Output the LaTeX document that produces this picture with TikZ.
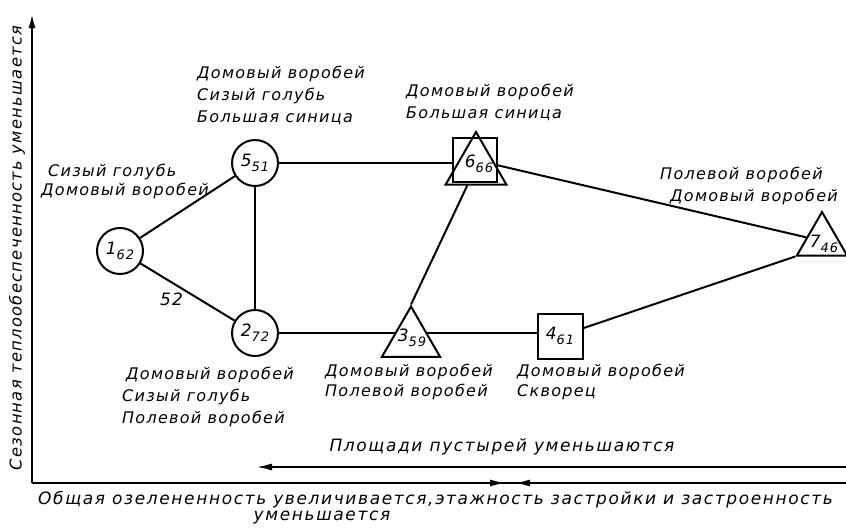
\documentclass[tikz,border=0pt]{standalone}
\usepackage{fontspec}
\setmainfont{DejaVu Sans}
\newfontfamily\lab[LetterSpace=8]{DejaVu Sans}
\newfontfamily\labw[LetterSpace=9.5]{DejaVu Sans}
\usetikzlibrary{shapes.geometric,backgrounds,arrows.meta}
\newcommand{\ndlab}[2]{#1\raisebox{-0.55ex}{\fontsize{13}{13}\selectfont #2}}
\begin{document}
\begin{tikzpicture}[x=1pt,y=-1pt,
  lbl/.style={font=\lab\itshape\fontsize{16}{22}\selectfont, align=left, inner sep=0pt, anchor=north west},
  lblv/.style={font=\lab\itshape\fontsize{16.3}{22}\selectfont, align=center, inner sep=0pt},
  lblw/.style={font=\labw\itshape\fontsize{17}{22}\selectfont, align=center, inner sep=0pt},
  num/.style={font=\lab\itshape\fontsize{17}{17}\selectfont},
  circ/.style={circle, draw, line width=2pt, minimum size=46pt, inner sep=0pt, fill=white, num},
  sq/.style={rectangle, draw, line width=2pt, minimum size=45pt, inner sep=0pt, num},
  tri/.style={regular polygon, regular polygon sides=3, draw, line width=2pt, inner sep=0pt, fill=white, num},
  edge/.style={line width=2pt},
  axis/.style={line width=2pt}]
\useasboundingbox (0,0) rectangle (846,531);

% nodes
\node[circ] (n1) at (120,251) {\ndlab{1}{62}};
\node[circ] (n5) at (255,163) {\ndlab{5}{51}};
\node[circ] (n2) at (255,333) {\ndlab{2}{72}};
\node[tri, minimum size=67pt] (n3) at (411,340) {};
\node[num] (n3t) at (412,338) {\ndlab{3}{59}};
\node[sq] (n4) at (560,336) {\ndlab{4}{61}};
\node[tri, minimum size=70pt] (n6t) at (476,167) {};
\node[sq, minimum size=44pt] (n6s) at (475,160) {};
\node[num] (n6l) at (479,164) {\ndlab{6}{66}};
\node[tri, minimum size=58pt] (n7) at (822,241) {};
\node[num] (n7l) at (824,244) {\ndlab{7}{46}};

% connectors
\draw[edge] (n1) -- (n5);
\draw[edge] (n1) -- (n2) node[pos=0.33, below=6pt, num] (l52) {52};
\draw[edge] (n5) -- (n2);
\draw[edge] (n5.east) -- (n5.east -| n6s.west);
\begin{scope}[on background layer]
\draw[edge] (n2.east) -- (n2.east -| n3.center);
\draw[edge] (n2.east -| n3.center) -- (n2.east -| n4.west);
\end{scope}
\draw[edge] (n4) -- (n7.corner 2);
\draw[edge] (n6s) -- (n7);
\draw[edge] (n3.corner 1) -- (n6t);

% labels
\node[lbl] (t1) at (41,164) {\hspace*{7pt}Сизый голубь\\[-3pt]Домовый воробей};
\node[lbl] (t5) at (197,66) {Домовый воробей\\Сизый голубь\\Большая синица};
\node[lbl] (t6) at (406,84) {Домовый воробей\\Большая синица};
\node[lbl] (t7) at (660,167) {Полевой воробей\\\hspace*{10pt}Домовый воробей};
\node[lbl] (t2) at (122,367) {\hspace*{4pt}Домовый воробей\\Сизый голубь\\Полевой воробей};
\node[lbl] (t3) at (325,364) {Домовый воробей\\[-2pt]Полевой воробей};
\node[lbl] (t4) at (517,364) {Домовый воробей\\[-2pt]Скворец};

% axes
\coordinate (o) at (32,483);
\coordinate (ytop) at (32,14);
\coordinate (xend) at (846,483);
\draw[axis, -{Latex[length=14pt,width=7pt]}] (o) -- (ytop);
\draw[axis] (o) -- (xend);
\coordinate (a1) at (486,483);
\coordinate (a1t) at (506,483);
\coordinate (a2) at (534,483);
\coordinate (a2t) at (514,483);
\draw[axis, -{Latex[length=16pt,width=7pt]}] (a1) -- (a1t);
\draw[axis, -{Latex[length=16pt,width=7pt]}] (a2) -- (a2t);
\coordinate (p1) at (846,467);
\coordinate (p2) at (256,467);
\draw[axis, -{Latex[length=16pt,width=7pt]}] (p1) -- (p2);

\node[lblw] (tp) at (502,447) {Площади пустырей уменьшаются};
\node[lblv, rotate=90] (ty) at (17,248) {Сезонная теплообеспеченность уменьшается};
\node[lblw, anchor=north west, align=left] (tb1) at (38,491) {Общая озелененность увеличивается,этажность застройки и застроенность};
\node[lblw] (tb2) at (322,517) {уменьшается};
\end{tikzpicture}
\end{document}
